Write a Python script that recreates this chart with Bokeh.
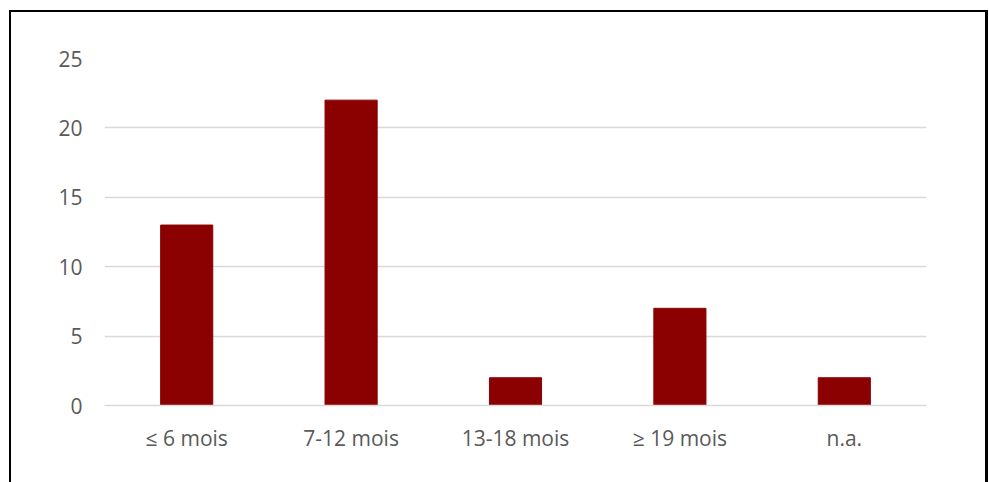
from bokeh.plotting import figure
from bokeh.models import FactorRange, Range1d, FixedTicker, ColumnDataSource
from bokeh.embed import file_html
from bokeh.resources import INLINE

categories = ["≤ 6 mois", "7-12 mois", "13-18 mois", "≥ 19 mois", "n.a."]
values = [13, 22, 2, 7, 2]
y_ticks = [0, 5, 10, 15, 20, 25]

src = ColumnDataSource(dict(cat=categories, val=values))

p = figure(
    x_range=FactorRange(*categories, range_padding=0),
    y_range=Range1d(0, 25),
    width=979, height=472,
    output_backend="svg", toolbar_location=None,
    min_border_left=93, min_border_right=64, min_border_top=46, min_border_bottom=79,
)
p.styles = {"border-top": "2px solid black", "border-left": "2px solid black",
            "border-right": "3px solid black", "margin-top": "10px", "margin-left": "9px",
            "box-sizing": "border-box"}

p.vbar(x="cat", top="val", width=0.317, source=src, color="#8B0000", line_color="#8B0000")

p.outline_line_color = None
p.xgrid.grid_line_color = None
p.ygrid.grid_line_color = "#D9D9D9"
p.ygrid.grid_line_width = 1.5
p.yaxis.ticker = FixedTicker(ticks=y_ticks)

for ax in (p.xaxis, p.yaxis):
    ax.axis_line_color = None
    ax.major_tick_line_color = None
    ax.minor_tick_line_color = None
    ax.major_label_text_font = "Open Sans"
    ax.major_label_text_font_size = "21px"
    ax.major_label_text_color = "#595959"

p.xaxis.axis_line_color = "#D9D9D9"
p.xaxis.axis_line_width = 1.5
p.yaxis.major_label_standoff = 16
p.xaxis.major_label_standoff = 12

open("out.html", "w").write(file_html(p, INLINE))
